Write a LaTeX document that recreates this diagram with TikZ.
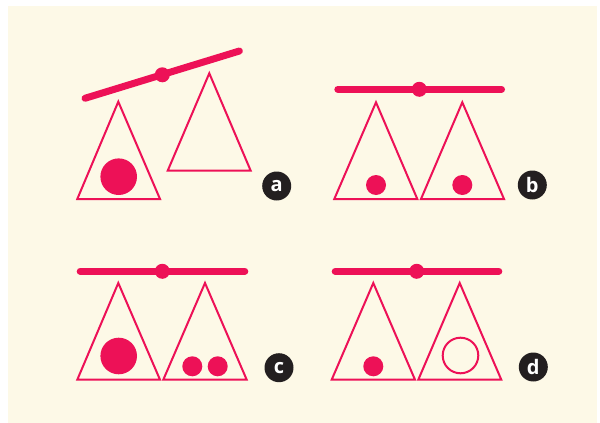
\documentclass[tikz,border=0pt]{standalone}
\usepackage{fontspec}
\setsansfont{Open Sans}
\definecolor{pinkred}{RGB}{237,17,87}
\definecolor{cream}{RGB}{253,249,231}
\definecolor{darklbl}{RGB}{35,31,32}
\begin{document}
\begin{tikzpicture}[x=1pt,y=-1pt,
  beam/.style={pinkred,line width=7pt,line cap=round,shorten <=3.5pt,shorten >=3.5pt},
  pivot/.style={fill=pinkred,draw=none},
  pan/.style={draw=pinkred,line width=2pt,line join=miter},
  ball/.style={fill=pinkred,draw=none},
  hollow/.style={draw=pinkred,line width=2pt},
  lbl/.style={circle,fill=darklbl,text=white,inner sep=0pt,minimum size=29pt,font=\sffamily\bfseries\fontsize{20}{20}\selectfont}]
\useasboundingbox (0,0) rectangle (600,423);
\fill[white] (0,0) rectangle (600,423);
\fill[cream] (8,6) rectangle (597,423);
% panel a
\coordinate (aL) at (81.7,99.3);
\coordinate (aR) at (242.7,50);
\draw[beam] (aL) -- (aR);
\fill[pivot] (162.3,74.8) circle (7.5);
\draw[pan] (118.3,101.7) -- (160,199) -- (77.3,199) -- cycle;
\draw[pan] (209.3,73.3) -- (250.7,170.7) -- (167.7,170.7) -- cycle;
\fill[ball] (118.7,176.7) circle (18.3);
\node[lbl] (la) at (276.7,186) {a};
% panel b
\coordinate (bL) at (334.3,89.3);
\coordinate (bR) at (505,89.3);
\draw[beam] (bL) -- (bR);
\fill[pivot] (419.3,89.3) circle (7.5);
\draw[pan] (376,102.3) -- (417.3,199) -- (334.3,199) -- cycle;
\draw[pan] (462.3,102.3) -- (504,199) -- (421,199) -- cycle;
\fill[ball] (376,185) circle (10);
\fill[ball] (462.3,185) circle (10);
\node[lbl] (lb) at (532.3,185) {b};
% panel c
\coordinate (cL) at (76.7,271.3);
\coordinate (cR) at (248.3,271.3);
\draw[beam] (cL) -- (cR);
\fill[pivot] (162.3,271.3) circle (7.5);
\draw[pan] (118.3,283) -- (160,379.7) -- (77.3,379.7) -- cycle;
\draw[pan] (205,283) -- (246.7,379.7) -- (163.3,379.7) -- cycle;
\fill[ball] (118.7,356) circle (18.3);
\fill[ball] (192.3,366.3) circle (10);
\fill[ball] (217.7,366.3) circle (10);
\node[lbl] (lc) at (279,367.7) {c};
% panel d
\coordinate (dL) at (331.7,271.3);
\coordinate (dR) at (502.3,271.3);
\draw[beam] (dL) -- (dR);
\fill[pivot] (416.7,271.3) circle (7.5);
\draw[pan] (373.3,283) -- (415,379.7) -- (331.7,379.7) -- cycle;
\draw[pan] (459.7,283) -- (501.3,379.7) -- (418.3,379.7) -- cycle;
\fill[ball] (373.3,366.3) circle (10);
\draw[hollow] (460.5,355.5) circle (17.8);
\node[lbl] (ld) at (533.3,367) {d};
\end{tikzpicture}
\end{document}
